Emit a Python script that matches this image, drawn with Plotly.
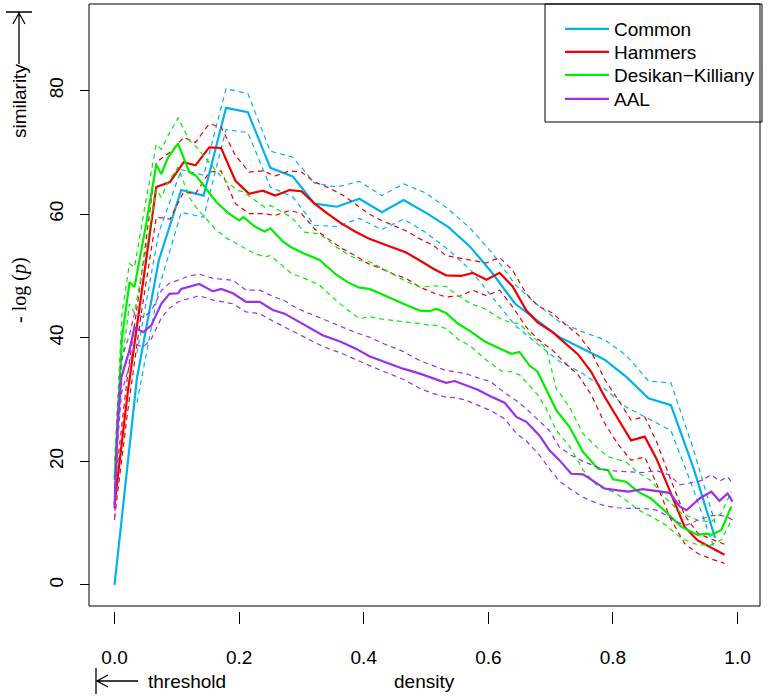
import plotly.graph_objects as go

# ---------------- data ----------------
common_x = [0.0, 0.036, 0.071, 0.107, 0.143, 0.179, 0.214, 0.25, 0.286, 0.321, 0.357, 0.393, 0.429, 0.464,
            0.5, 0.536, 0.571, 0.607, 0.643, 0.679, 0.714, 0.75, 0.786, 0.821, 0.857, 0.893, 0.929, 0.964]
common_y = [0.0, 33.5, 52.5, 63.9, 63.0, 77.2, 76.5, 67.5, 66.1, 61.7, 61.2, 62.5, 60.3, 62.3,
            60.2, 57.9, 54.7, 50.4, 45.5, 42.8, 40.1, 38.3, 36.5, 33.7, 30.2, 29.1, 19.0, 7.6]
common_lo = [None, 29.5, 48.0, 60.3, 59.5, 73.7, 73.2, 64.4, 62.8, 58.2, 58.0, 59.3, 57.5, 59.2,
             57.0, 54.2, 51.0, 46.5, 42.0, 39.0, 36.2, 34.3, 31.8, 28.8, 26.9, 25.0, 15.5, 5.5]
common_hi = [None, 37.5, 57.0, 67.2, 66.3, 80.3, 79.5, 70.2, 69.2, 65.0, 64.4, 65.3, 63.0, 64.9,
             63.4, 60.8, 57.7, 53.6, 48.6, 45.3, 42.6, 41.0, 39.7, 37.2, 33.0, 32.7, 22.0, 10.0]

hammers_x = [0.0, 0.021, 0.043, 0.067, 0.089, 0.111, 0.130, 0.152, 0.171, 0.194, 0.216, 0.238, 0.258,
             0.281, 0.300, 0.321, 0.343, 0.364, 0.386, 0.407, 0.428, 0.448, 0.468, 0.490, 0.511, 0.532,
             0.556, 0.575, 0.597, 0.618, 0.639, 0.661, 0.679, 0.703, 0.722, 0.744, 0.765, 0.787, 0.808,
             0.829, 0.851, 0.870, 0.891, 0.915, 0.936, 0.958, 0.979]
hammers_y = [13.0, 31.0, 47.0, 64.4, 65.2, 68.4, 67.9, 70.8, 70.7, 65.4, 63.3, 63.8, 63.0,
             63.9, 63.7, 61.7, 60.0, 58.5, 57.2, 56.1, 55.3, 54.6, 53.8, 52.5, 51.2, 50.1,
             50.0, 50.5, 49.4, 50.5, 48.3, 44.4, 42.5, 40.9, 39.2, 37.3, 34.5, 30.4, 26.9,
             23.4, 24.0, 20.4, 15.3, 9.4, 7.2, 6.0, 4.9]
hammers_lo = [10.8, 28.0, 44.0, 59.5, 59.2, 63.6, 63.3, 66.8, 67.0, 61.7, 60.1, 60.1, 59.8,
              60.6, 60.1, 57.6, 56.0, 54.5, 53.3, 52.0, 51.2, 50.3, 49.6, 48.2, 47.3, 46.6,
              46.8, 47.7, 46.8, 47.7, 45.0, 41.7, 39.8, 38.0, 36.0, 34.0, 30.8, 26.1, 22.8,
              20.2, 20.7, 16.4, 11.0, 6.7, 5.1, 4.2, 3.5]
hammers_hi = [15.5, 34.0, 50.0, 68.4, 70.0, 72.4, 71.6, 74.6, 74.1, 69.5, 66.8, 67.0, 66.2,
              67.0, 66.8, 65.2, 64.3, 63.2, 61.7, 60.1, 59.0, 58.2, 57.3, 56.0, 55.0, 53.3,
              52.8, 52.5, 52.1, 53.0, 50.9, 47.1, 45.2, 44.0, 42.3, 40.5, 37.8, 33.2, 30.0,
              26.7, 27.2, 23.2, 17.5, 11.3, 8.4, 7.4, 6.6]

desikan_x = [0.0, 0.012, 0.024, 0.032, 0.050, 0.067, 0.075, 0.086, 0.102, 0.120, 0.131, 0.147, 0.163,
             0.182, 0.200, 0.207, 0.225, 0.241, 0.250, 0.270, 0.284, 0.305, 0.329, 0.356, 0.374, 0.393,
             0.409, 0.430, 0.449, 0.468, 0.490, 0.506, 0.516, 0.532, 0.551, 0.572, 0.594, 0.621, 0.637,
             0.650, 0.666, 0.679, 0.693, 0.709, 0.730, 0.752, 0.776, 0.792, 0.800, 0.821, 0.840, 0.861,
             0.885, 0.910, 0.936, 0.950, 0.958, 0.974, 0.990]
desikan_y = [17.0, 40.0, 49.0, 48.2, 58.0, 68.0, 66.5, 69.2, 71.4, 66.8, 66.2, 64.0, 62.0,
             60.2, 59.0, 59.5, 58.0, 57.2, 57.7, 55.6, 54.6, 53.6, 52.6, 50.2, 49.0, 48.1,
             47.9, 47.0, 46.1, 45.3, 44.4, 44.3, 44.7, 44.0, 42.3, 41.0, 39.4, 38.2, 37.4,
             37.7, 35.5, 34.5, 31.5, 28.3, 25.6, 21.5, 18.8, 18.6, 17.1, 16.7, 15.1, 14.0,
             11.8, 9.4, 8.1, 8.3, 8.1, 8.9, 12.7]
desikan_lo = [14.5, 36.0, 45.5, 44.0, 54.0, 64.0, 62.7, 65.2, 67.6, 62.7, 61.1, 59.3, 57.4,
              56.0, 55.0, 54.6, 53.6, 53.1, 53.3, 51.6, 50.4, 49.6, 48.5, 46.0, 44.5, 43.1,
              43.4, 43.0, 42.8, 42.6, 42.3, 42.0, 42.0, 41.5, 39.8, 38.6, 36.6, 34.6, 34.5,
              34.0, 32.3, 30.8, 28.5, 25.0, 22.5, 18.6, 15.9, 15.3, 15.1, 13.7, 12.2, 11.1,
              9.7, 7.5, 6.5, 6.5, 6.5, 7.3, 10.5]
desikan_hi = [20.0, 44.0, 52.0, 51.4, 62.0, 71.3, 70.5, 72.7, 75.6, 71.9, 70.9, 69.0, 67.0,
              65.0, 63.8, 63.6, 62.2, 61.1, 61.4, 60.2, 59.5, 57.1, 56.8, 54.7, 53.5, 52.5,
              52.3, 51.2, 50.1, 49.1, 48.2, 48.3, 48.4, 48.3, 46.8, 45.5, 44.7, 43.0, 42.4,
              42.3, 40.6, 39.5, 38.3, 31.8, 28.8, 24.5, 22.1, 20.8, 20.5, 19.9, 18.2, 16.9,
              14.0, 11.6, 10.5, 10.3, 10.2, 11.6, 15.1]

aal_x = [0.0, 0.005, 0.011, 0.024, 0.032, 0.046, 0.059, 0.075, 0.088, 0.102, 0.107, 0.120, 0.136,
         0.158, 0.171, 0.190, 0.211, 0.233, 0.254, 0.273, 0.292, 0.313, 0.334, 0.364, 0.388, 0.409,
         0.433, 0.463, 0.490, 0.511, 0.532, 0.546, 0.564, 0.583, 0.604, 0.626, 0.645, 0.661, 0.682,
         0.698, 0.714, 0.733, 0.752, 0.770, 0.787, 0.808, 0.824, 0.848, 0.870, 0.891, 0.907, 0.918,
         0.939, 0.958, 0.971, 0.984, 0.992]
aal_y = [12.4, 26.0, 33.6, 38.0, 41.7, 40.9, 42.0, 45.5, 47.1, 47.2, 47.9, 48.3, 48.7,
         47.5, 47.9, 47.2, 45.8, 45.8, 44.5, 43.9, 42.8, 41.5, 40.4, 39.3, 38.2, 37.0,
         36.1, 35.0, 34.2, 33.4, 32.7, 33.0, 32.3, 31.6, 30.5, 29.5, 27.2, 26.4, 24.2,
         21.8, 20.2, 18.0, 17.9, 16.7, 15.6, 15.3, 15.1, 15.5, 15.2, 14.9, 12.7, 12.1,
         14.0, 15.1, 13.6, 14.8, 13.5]
aal_lo = [10.5, 23.0, 31.0, 35.5, 39.0, 38.5, 39.8, 43.2, 44.8, 45.8, 46.0, 46.4, 46.8,
          46.1, 45.9, 45.5, 44.2, 43.9, 42.7, 41.7, 40.8, 39.7, 38.6, 37.5, 36.4, 35.5,
          34.5, 33.3, 31.8, 31.0, 30.4, 30.3, 29.9, 29.1, 28.2, 26.9, 24.5, 23.3, 21.0,
          18.8, 16.8, 15.4, 14.2, 13.4, 12.8, 12.5, 12.4, 12.4, 12.1, 11.0, 10.0, 9.7,
          10.6, 11.2, 11.3, 11.0, 10.5]
aal_hi = [14.5, 29.0, 36.5, 40.5, 44.0, 43.3, 44.3, 47.6, 48.8, 49.3, 49.6, 50.0, 50.3,
          49.6, 49.5, 49.3, 47.7, 47.7, 46.7, 46.0, 44.8, 43.9, 43.0, 41.8, 40.8, 40.1,
          39.0, 37.8, 36.3, 35.5, 34.7, 34.5, 34.2, 33.5, 32.9, 31.1, 29.8, 28.5, 26.5,
          25.0, 22.3, 21.0, 20.0, 19.3, 18.6, 18.4, 18.3, 18.2, 18.5, 17.8, 16.2, 16.4,
          16.8, 17.8, 16.8, 17.5, 16.4]

series_names = ["Common", "Hammers", "Desikan\u2212Killiany", "AAL"]
series_colors = ["#00B2EE", "#EE0000", "#00EE00", "#9B30E8"]

x_tick_vals = [0.0, 0.2, 0.4, 0.6, 0.8, 1.0]
x_tick_text = ["0.0", "0.2", "0.4", "0.6", "0.8", "1.0"]
y_tick_vals = [0, 20, 40, 60, 80]
y_tick_text = ["0", "20", "40", "60", "80"]

# ---------------- figure ----------------
W, H = 768, 697
def px(x):
    return x / W
def py(y):
    return 1 - y / H

FONT = "Liberation Sans, Arial, Helvetica, sans-serif"
legend_ids = ["legend", "legend2", "legend3", "legend4"]
legend_rows = [29, 52, 75, 99]

fig = go.Figure()
all_series = [
    (common_x, common_y, common_lo, common_hi),
    (hammers_x, hammers_y, hammers_lo, hammers_hi),
    (desikan_x, desikan_y, desikan_lo, desikan_hi),
    (aal_x, aal_y, aal_lo, aal_hi),
]
for (xs, ys, lo, hi), name, col, lg in zip(all_series, series_names, series_colors, legend_ids):
    for band in (lo, hi):
        fig.add_trace(go.Scatter(x=xs, y=band, mode="lines", showlegend=False, hoverinfo="skip",
                                 line=dict(color=col, width=1.2, dash="5px,4px")))
    fig.add_trace(go.Scatter(x=xs, y=ys, mode="lines", name=name, legend=lg,
                             line=dict(color=col, width=2.2)))

legend_layouts = {}
for lg, row in zip(legend_ids, legend_rows):
    legend_layouts[lg] = dict(x=px(560), y=py(row), xanchor="left", yanchor="middle",
                              bgcolor="rgba(0,0,0,0)", borderwidth=0,
                              font=dict(family=FONT, size=19, color="black"),
                              itemwidth=44)

fig.update_layout(
    width=W, height=H,
    margin=dict(l=0, r=0, t=0, b=0),
    paper_bgcolor="white", plot_bgcolor="white",
    font=dict(family=FONT, size=19, color="black"),
    showlegend=True,
    xaxis=dict(domain=[px(89), px(760)], range=[-0.041, 1.036], anchor="free", position=py(611),
               showgrid=False, zeroline=False, showline=False,
               ticks="outside", ticklen=12, tickwidth=1, tickcolor="black",
               tickvals=x_tick_vals, ticktext=x_tick_text, ticklabelstandoff=17,
               tickfont=dict(family=FONT, size=19, color="black")),
    yaxis=dict(domain=[py(606), py(4)], range=[-3.4, 94.0], anchor="free", position=px(89),
               showgrid=False, zeroline=False, showline=False,
               ticks="outside", ticklen=9, tickwidth=1, tickcolor="black",
               tickvals=y_tick_vals, ticktext=y_tick_text, tickangle=-90, ticklabelstandoff=9,
               tickfont=dict(family=FONT, size=19, color="black")),
    **legend_layouts,
)

shapes = []
# plot box
shapes.append(dict(type="rect", xref="paper", yref="paper", x0=px(89), x1=px(760), y0=py(606), y1=py(4),
                   line=dict(color="black", width=1)))
# legend box
shapes.append(dict(type="rect", xref="paper", yref="paper", x0=px(545), x1=px(762), y0=py(122), y1=py(4),
                   line=dict(color="black", width=1), fillcolor="rgba(0,0,0,0)"))
# similarity arrow (pointing up to a bar)
shapes.append(dict(type="path", xref="paper", yref="paper",
                   path=f"M {px(19)} {py(64)} L {px(19)} {py(13)} M {px(6)} {py(12)} L {px(32)} {py(12)} "
                        f"M {px(13)} {py(24)} L {px(19)} {py(13)} L {px(25)} {py(24)}",
                   line=dict(color="black", width=1.3)))
# threshold arrow (pointing left to a bar)
shapes.append(dict(type="path", xref="paper", yref="paper",
                   path=f"M {px(96)} {py(668)} L {px(96)} {py(694)} M {px(97)} {py(681)} L {px(138)} {py(681)} "
                        f"M {px(108)} {py(675)} L {px(97)} {py(681)} L {px(108)} {py(687)}",
                   line=dict(color="black", width=1.3)))
fig.update_layout(shapes=shapes)

annotations = [
    dict(text="threshold", x=px(146), y=py(681), xref="paper", yref="paper", xanchor="left", yanchor="middle",
         showarrow=False, font=dict(family=FONT, size=19)),
    dict(text="density", x=px(424), y=py(681), xref="paper", yref="paper", xanchor="center", yanchor="middle",
         showarrow=False, font=dict(family=FONT, size=19)),
    dict(text="similarity", x=px(19), y=py(101), xref="paper", yref="paper", xanchor="center", yanchor="middle",
         textangle=-90, showarrow=False, font=dict(family=FONT, size=19)),
    dict(text="- log (<i>p</i>)", x=px(20), y=py(290), xref="paper", yref="paper", xanchor="center",
         yanchor="middle", textangle=-90, showarrow=False,
         font=dict(family="Liberation Serif, Times New Roman, serif", size=20)),
]
fig.update_layout(annotations=annotations)

fig.write_html("out.html", config={"displayModeBar": False},
               post_script="document.body.style.margin='0px';document.body.style.padding='0px';")
